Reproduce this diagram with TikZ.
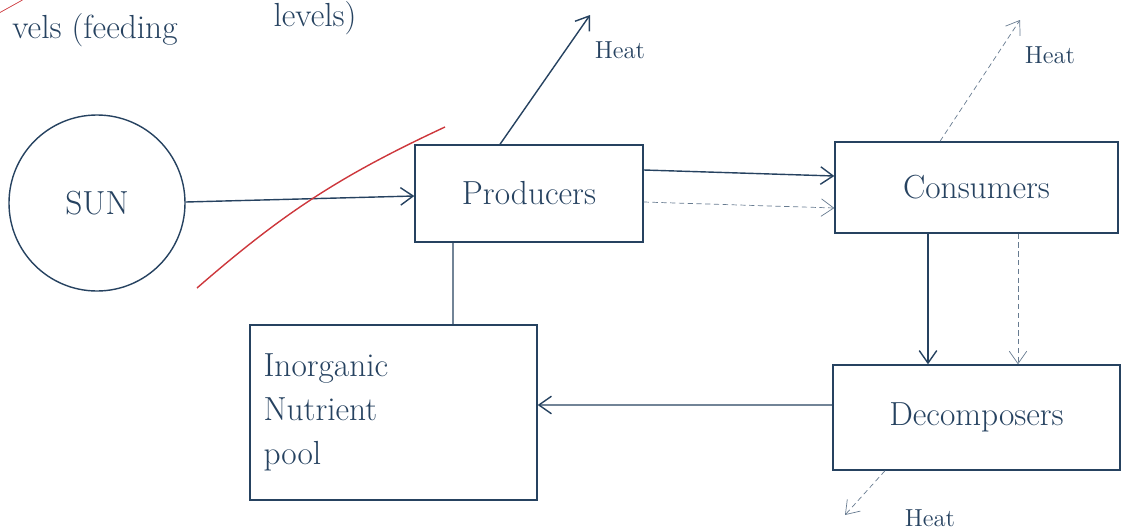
\documentclass[tikz,border=0pt]{standalone}
\usepackage{tikz}
\usetikzlibrary{arrows.meta, positioning, calc}
\definecolor{ink}{RGB}{38,66,96}
\definecolor{redpen}{RGB}{205,55,60}

\begin{document}
\begin{tikzpicture}[
    every node/.style={text=ink, font=\fontsize{19}{23}\selectfont},
    block/.style={draw=ink, thick, rectangle, inner sep=0pt},
    flow/.style={draw=ink, thick, -{Straight Barb[length=2.5mm, width=3.5mm]}},
    faint/.style={draw=ink!70, densely dashed, thin, -{Straight Barb[length=2.5mm, width=3.5mm]}}
]
    \useasboundingbox (0,0) rectangle (22.68,-10.62);

    % heading, cut off at the edge
    \node (head1) at (1.9,-0.6) {vels (feeding};
    \node (head2) at (6.3,-0.36) {levels)};
    \draw[redpen, thin] (0,-0.25) -- (0.45,0);

    % SUN and the four blocks
    \node[circle, draw=ink, thick, minimum size=3.52cm, inner sep=0pt] (sun) at (1.94,-4.06) {SUN};
    \node[block, minimum width=4.56cm, minimum height=1.94cm] (prod) at (10.58,-3.87) {Producers};
    \node[block, minimum width=5.66cm, minimum height=1.82cm] (cons) at (19.53,-3.75) {Consumers};
    \node[block, minimum width=5.74cm, minimum height=2.1cm] (dec) at (19.53,-8.35) {Decomposers};
    \node[block, minimum width=5.74cm, minimum height=3.5cm, align=left, text width=5.2cm] (inorg) at (7.87,-8.25)
        {Inorganic\\[2pt] Nutrient\\[2pt] pool};

    % heat given off
    \coordinate (heatP) at (11.8,-0.3);
    \coordinate (heatC) at (20.4,-0.4);
    \coordinate (heatD) at (16.9,-10.3);
    \node[font=\fontsize{14}{16}\selectfont] (hP) at (12.4,-1.0) {Heat};
    \node[font=\fontsize{14}{16}\selectfont] (hC) at (21.0,-1.1) {Heat};
    \node[font=\fontsize{14}{16}\selectfont] (hD) at (18.6,-10.36) {Heat};

    % energy flow
    \draw[flow] ([yshift=0.02cm]sun.east) -- ([yshift=-0.05cm]prod.west);
    \draw[flow] ([yshift=0.47cm]prod.east) -- ([yshift=0.23cm]cons.west);
    \draw[faint] ([yshift=-0.17cm]prod.east) -- ([yshift=-0.41cm]cons.west);
    \draw[flow] ([xshift=-0.97cm]cons.south) -- ([xshift=-0.97cm]dec.north);
    \draw[faint] ([xshift=0.83cm]cons.south) -- ([xshift=0.83cm]dec.north);
    \draw[flow] ([yshift=0.25cm]dec.west) -- ([yshift=0.15cm]inorg.east);
    \draw[ink, thick] ([xshift=-1.52cm]prod.south) -- ([xshift=1.19cm]inorg.north);

    \draw[flow] ([xshift=-0.58cm]prod.north) -- (heatP);
    \draw[faint] ([xshift=-0.73cm]cons.north) -- (heatC);
    \draw[faint] ([xshift=-1.83cm]dec.south) -- (heatD);

    % red stroke across the sun arrow
    \draw[redpen, thick] (3.94,-5.76) to[bend left=8] (8.9,-2.54);
\end{tikzpicture}
\end{document}
